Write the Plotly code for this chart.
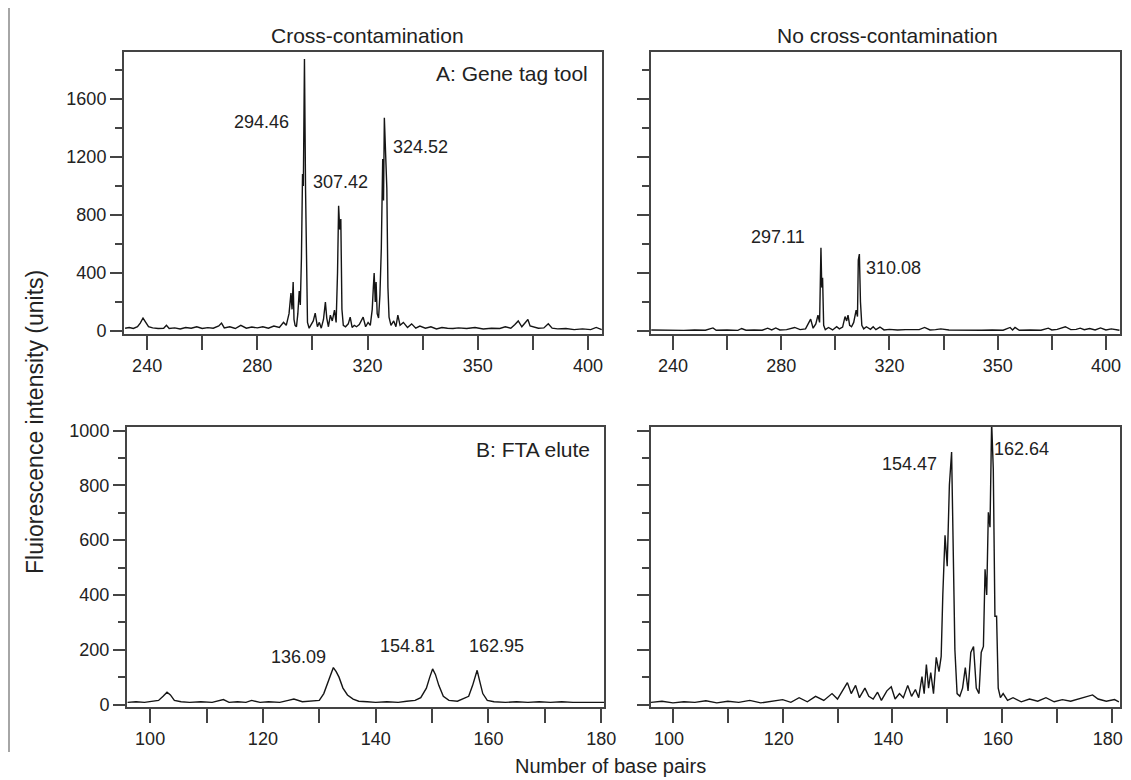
import plotly.graph_objects as go

# ---------------- data ----------------
# Top row: axis positions (labels 240, 280, 320, 350, 400 are evenly spaced on the original axis)
top_tickvals = [240, 280, 320, 360, 400]
top_ticktext = ["240", "280", "320", "350", "400"]
top_minor = [260, 300, 340, 380]
top_yticks = [0, 400, 800, 1200, 1600]
top_yminor = [200, 600, 1000, 1400, 1800]

bot_tickvals = [100, 120, 140, 160, 180]
bot_ticktext = ["100", "120", "140", "160", "180"]
bot_minor = [110, 130, 150, 170]
bot_yticks = [0, 200, 400, 600, 800, 1000]
bot_yminor = [100, 300, 500, 700, 900]

# A: Gene tag tool, cross-contamination
tl_x = [232, 233.5, 235, 236.5, 237.5, 238.5, 239.5, 240.5, 242, 244,
        246, 247, 248, 250, 252, 254, 256, 258, 260, 262,
        264, 266, 267, 268, 270, 272, 274, 276, 278, 280,
        282, 284, 286, 288, 289.5, 290.5, 291.5, 292.2, 292.6, 293.0,
        293.3, 293.7, 294.2, 294.7, 295.2, 295.6, 296.0, 296.4, 296.7, 297.1,
        297.5, 297.8, 298.2, 298.8, 299.5, 300.3, 301.0, 301.8, 302.5, 303.2,
        304.0, 304.7, 305.2, 305.8, 306.5, 307.2, 308.0, 308.6, 309.1, 309.5,
        309.9, 310.3, 310.7, 311.2, 312, 313, 313.7, 314.4, 315.2, 316,
        317, 318.4, 319.3, 320.2, 321.0, 321.7, 322.1, 322.4, 322.8, 323.1,
        323.5, 324.0, 324.5, 325.0, 325.5, 325.8, 326.1, 326.5, 327.0, 327.4,
        327.8, 328.5, 329.5, 330.3, 331.0, 331.8, 333, 334.5, 336, 337.5,
        339, 341, 343, 345, 347, 349, 351, 353, 356, 359,
        362, 365, 368, 370, 372, 373.5, 374.7, 376, 377, 378.2,
        379, 380.5, 382, 384, 385.6, 387, 389, 392, 395, 398,
        401, 403, 405]
tl_y = [20, 25, 18, 30, 55, 90, 60, 30, 22, 18,
        20, 40, 18, 22, 15, 25, 20, 30, 18, 24,
        20, 35, 55, 22, 30, 18, 40, 20, 28, 22,
        30, 20, 35, 25, 60, 40, 120, 262, 150, 338,
        80, 40, 30, 120, 276, 180, 500, 1083, 1000, 1876,
        972, 400, 60, 20, 40, 70, 124, 30, 60, 20,
        80, 200, 90, 30, 110, 70, 145, 60, 400, 864,
        700, 772, 150, 40, 30, 50, 96, 25, 40, 30,
        45, 96, 30, 60, 40, 150, 300, 400, 200, 338,
        120, 90, 250, 572, 1186, 900, 1471, 1200, 986, 300,
        96, 40, 70, 30, 110, 40, 60, 25, 50, 20,
        35, 20, 30, 15, 25, 20, 18, 22, 18, 25,
        15, 20, 18, 30, 20, 45, 70, 30, 55, 80,
        35, 25, 20, 22, 50, 20, 15, 18, 10, 15,
        10, 25, 10]

# A: Gene tag tool, no cross-contamination
tr_x = [232, 236, 240, 244, 248, 252, 254.8, 256, 260, 264,
        265.4, 267, 270, 273, 275, 276.5, 278, 279.5, 282, 285,
        287, 289, 290.9, 291.8, 292.8, 293.6, 294.2, 294.7, 295.0, 295.3,
        295.7, 296.3, 297.5, 299, 300.5, 301.5, 302.7, 303.6, 304.2, 304.7,
        305.3, 306, 306.8, 307.7, 308.2, 308.5, 308.9, 309.3, 309.8, 310.5,
        311.5, 313, 314, 315, 316.5, 318, 320, 323, 326, 329,
        331, 333, 335, 337, 339, 342, 346, 350, 354, 358,
        362, 364.6, 365.5, 366.4, 368, 372, 376, 378.7, 380, 382,
        385, 387, 389, 390.5, 392, 394, 396, 398, 400, 402, 405]
tr_y = [8, 6, 8, 5, 8, 6, 22, 6, 8, 5,
        18, 6, 8, 6, 20, 8, 22, 8, 10, 25,
        10, 15, 83, 20, 50, 110, 60, 575, 300, 368,
        40, 10, 25, 8, 30, 15, 28, 100, 70, 110,
        40, 30, 60, 145, 100, 490, 531, 200, 40, 15,
        30, 12, 30, 10, 28, 8, 12, 8, 10, 8,
        10, 25, 8, 10, 15, 8, 6, 8, 6, 8,
        6, 25, 8, 25, 6, 8, 6, 20, 8, 12,
        30, 10, 12, 20, 10, 18, 8, 22, 8, 15, 6]

# B: FTA elute, cross-contamination
bl_x = [96, 97.5, 99, 100.5, 101.5, 102.3, 103, 103.6, 104.3, 105.5,
        107, 109, 111, 113, 114, 115.5, 117, 118, 119.5, 121,
        123, 124.5, 125.5, 127, 128.5, 130, 130.8, 131.5, 132.0, 132.5,
        133.0, 133.5, 134.2, 135.0, 136, 137, 138.5, 140, 142, 144,
        145.5, 147, 148, 149, 149.6, 150.1, 150.6, 151.2, 152, 153,
        154.5, 155.5, 156.5, 157.2, 157.7, 158.0, 158.4, 159, 159.8, 161,
        163, 165, 167, 169, 171, 173, 175, 177, 179, 180.6]
bl_y = [8, 10, 8, 12, 15, 30, 45, 35, 15, 10,
        8, 10, 8, 18, 8, 10, 8, 15, 8, 10,
        8, 15, 20, 10, 12, 15, 40, 80, 110, 135,
        120, 100, 60, 35, 20, 12, 10, 8, 10, 8,
        12, 15, 25, 60, 100, 130, 110, 70, 30, 15,
        12, 20, 30, 70, 105, 125, 90, 40, 15, 10,
        8, 10, 8, 10, 8, 10, 8, 8, 10, 8]

# B: FTA elute, no cross-contamination
br_x = [96, 98, 100, 102, 104, 106, 108, 110, 112, 114,
        116, 118, 120, 121.5, 123, 124.5, 126, 127.5, 129, 130,
        131, 131.8, 132.5, 133.3, 134, 135, 135.7, 136.5, 137.3, 138,
        139, 139.8, 140.5, 141.3, 142, 142.8, 143.5, 144.2, 144.8, 145.4,
        145.8, 146.2, 146.6, 147, 147.5, 148, 148.5, 148.9, 149.2, 149.6,
        150.0, 150.4, 150.8, 151.1, 151.4, 151.8, 152.3, 152.8, 153.3, 153.8,
        154.3, 154.8, 155.3, 155.8, 156.2, 156.6, 156.9, 157.2, 157.5, 157.8,
        158.1, 158.4, 158.7, 159.0, 159.3, 159.7, 160.2, 161, 162, 163.5,
        165, 166.5, 168, 169.5, 171, 172.5, 174, 175.5, 176.5, 177.5,
        179, 180.5, 181.3]
br_y = [8, 12, 6, 10, 8, 14, 6, 12, 8, 15,
        6, 12, 18, 8, 25, 10, 30, 15, 40, 20,
        55, 80, 40, 70, 25, 60, 30, 20, 45, 15,
        50, 65, 20, 40, 25, 70, 30, 55, 25, 102,
        40, 146, 60, 117, 40, 172, 120, 176, 402, 618,
        505, 802, 922, 603, 200, 40, 30, 60, 135, 50,
        190, 212, 60, 40, 190, 212, 494, 400, 702, 647,
        1030, 859, 322, 322, 60, 25, 40, 15, 25, 10,
        20, 12, 25, 10, 18, 12, 20, 28, 35, 20,
        12, 18, 10]

col_titles = ["Cross-contamination", "No cross-contamination"]
panel_labels = ["A: Gene tag tool", "B: FTA elute"]
tl_peaks = [(281.4, 1441, "294.46"), (310.0, 1028, "307.42"), (339.3, 1269, "324.52")]
tr_peaks = [(278.8, 648, "297.11"), (321.6, 434, "310.08")]
bl_peaks = [(126.4, 172, "136.09"), (145.7, 212, "154.81"), (161.4, 212, "162.95")]
br_peaks = [(143.1, 877, "154.47"), (163.6, 932, "162.64")]
y_title = "Fluiorescence intensity (units)"
x_title = "Number of base pairs"

# ---------------- figure ----------------
# page has an 8px body margin; the figure is offset by it
OFF = 8
FW, FH = 1123, 772
FONT = "Liberation Sans, Arial, Helvetica, sans-serif"
INK = "#222222"
AX = "#444444"

def px_x(p):
    return (p - OFF) / FW

def px_y(p):
    return 1 - (p - OFF) / FH

fig = go.Figure()
line = dict(color="#151515", width=1.4)
for xs, ys, xa, ya in [(tl_x, tl_y, "x", "y"), (tr_x, tr_y, "x2", "y2"),
                       (bl_x, bl_y, "x3", "y3"), (br_x, br_y, "x4", "y4")]:
    fig.add_trace(go.Scatter(x=xs, y=ys, mode="lines", line=line,
                             xaxis=xa, yaxis=ya, showlegend=False, hoverinfo="skip"))

def xaxis(domain, rng, tv, tt, minor, anchor, shift=0):
    return dict(domain=domain, range=rng, anchor=anchor, showgrid=False, zeroline=False,
                showline=True, mirror=True, linecolor=AX, linewidth=2,
                ticks="outside", ticklen=14, tickwidth=2, tickcolor=AX,
                tickvals=tv, ticktext=tt, ticklabeloverflow="allow", ticklabelshift=shift,
                minor=dict(tickvals=minor, ticks="outside", ticklen=14, tickwidth=2, tickcolor=AX),
                tickfont=dict(family=FONT, size=18, color=INK), automargin=False)

def yaxis(domain, rng, tv, minor, anchor, labels):
    return dict(domain=domain, range=rng, anchor=anchor, showgrid=False, zeroline=False,
                showline=True, mirror=True, linecolor=AX, linewidth=2,
                ticks="outside", ticklen=12, tickwidth=2, tickcolor=AX,
                tickvals=tv, showticklabels=labels,
                minor=dict(tickvals=minor, ticks="outside", ticklen=7, tickwidth=2, tickcolor=AX),
                tickfont=dict(family=FONT, size=18, color=INK), automargin=False)

top_dom = [px_y(334), px_y(52)]
bot_dom = [px_y(707), px_y(427)]
left_dom_t = [px_x(124), px_x(602)]
left_dom_b = [px_x(127), px_x(604)]
right_dom = [px_x(651), px_x(1120)]

fig.update_layout(
    width=FW, height=FH, margin=dict(l=0, r=0, t=0, b=0),
    paper_bgcolor="white", plot_bgcolor="white",
    font=dict(family=FONT, color=INK),
    xaxis=xaxis(left_dom_t, [231.6, 405.1], top_tickvals, top_ticktext, top_minor, "y"),
    yaxis=yaxis(top_dom, [-20, 1924], top_yticks, top_yminor, "x", True),
    xaxis2=xaxis(right_dom, [231.9, 405.2], top_tickvals, top_ticktext, top_minor, "y2"),
    yaxis2=yaxis(top_dom, [-20, 1924], top_yticks, top_yminor, "x2", False),
    xaxis3=xaxis(left_dom_b, [95.9, 180.5], bot_tickvals, bot_ticktext, bot_minor, "y3"),
    yaxis3=yaxis(bot_dom, [-9, 1013], bot_yticks, bot_yminor, "x3", True),
    xaxis4=xaxis(right_dom, [96, 181.5], bot_tickvals, bot_ticktext, bot_minor, "y4", shift=-4),
    yaxis4=yaxis(bot_dom, [-9, 1013], bot_yticks, bot_yminor, "x4", False),
)

ann = []
ann.append(dict(x=px_x(367), y=px_y(35), xref="paper", yref="paper", text=col_titles[0],
                xanchor="center", yanchor="middle", showarrow=False, font=dict(size=21)))
ann.append(dict(x=px_x(887), y=px_y(35), xref="paper", yref="paper", text=col_titles[1],
                xanchor="center", yanchor="middle", showarrow=False, font=dict(size=21)))
ann.append(dict(x=400.7, y=1779, xref="x", yref="y", text=panel_labels[0], xanchor="right",
                yanchor="middle", showarrow=False, font=dict(size=21)))
ann.append(dict(x=178.4, y=932, xref="x3", yref="y3", text=panel_labels[1], xanchor="right",
                yanchor="middle", showarrow=False, font=dict(size=21)))
for peaks, xr, yr in [(tl_peaks, "x", "y"), (tr_peaks, "x2", "y2"),
                      (bl_peaks, "x3", "y3"), (br_peaks, "x4", "y4")]:
    for px_, py_, t in peaks:
        ann.append(dict(x=px_, y=py_, xref=xr, yref=yr, text=t, showarrow=False,
                        xanchor="center", yanchor="middle", font=dict(size=18)))
ann.append(dict(x=px_x(35), y=px_y(422), xref="paper", yref="paper", text=y_title,
                textangle=-90, xanchor="center", yanchor="middle", showarrow=False,
                font=dict(size=23)))
ann.append(dict(x=px_x(610), y=px_y(766), xref="paper", yref="paper", text=x_title,
                xanchor="center", yanchor="middle", showarrow=False, font=dict(size=20)))
fig.update_layout(annotations=ann)

fig.add_shape(type="line", xref="paper", yref="paper", x0=px_x(9), x1=px_x(9),
              y0=1, y1=px_y(752), line=dict(color="#888888", width=1.5))

fig.write_html("out.html")
